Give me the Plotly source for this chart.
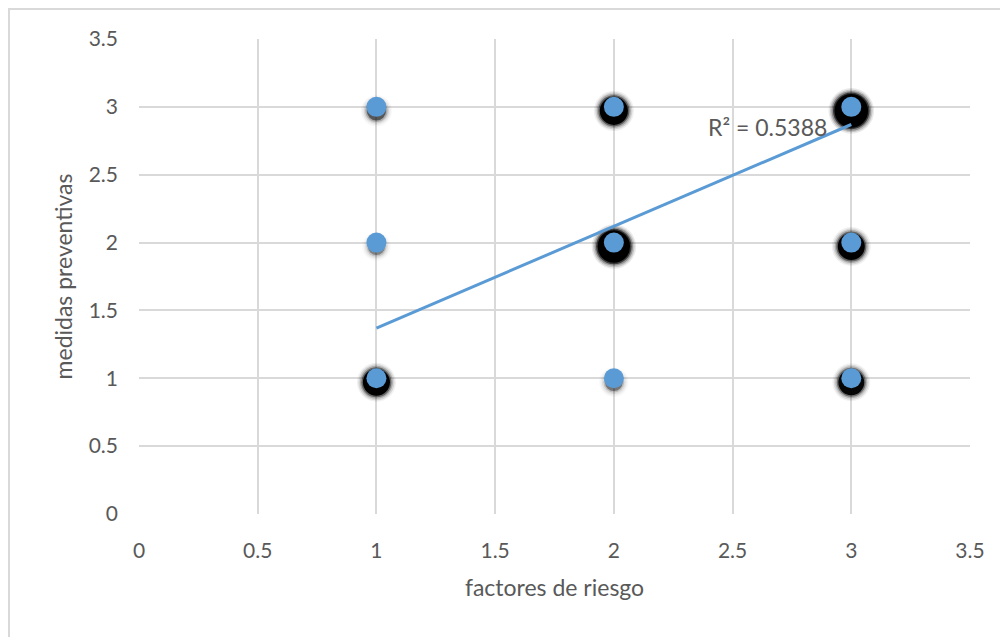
import plotly.graph_objects as go

# ---- data ----
x_vals = [1, 1, 1, 2, 2, 2, 3, 3, 3]
y_vals = [3, 2, 1, 3, 2, 1, 3, 2, 1]
# relative weight of overlapping points (drawn as shadow strength)
overlap = [0.6, 0.2, 2, 2.2, 3, 0.3, 3.2, 2, 1.8]
trend_x = [1, 3]
trend_y = [1.37, 2.87]
r2_text = "R² = 0.5388"
r2_pos = (2.645, 2.85)
x_ticks = [0, 0.5, 1, 1.5, 2, 2.5, 3, 3.5]
y_ticks = [0, 0.5, 1, 1.5, 2, 2.5, 3, 3.5]
x_title = "factores de riesgo"
y_title = "medidas preventivas"

W, H = 1008, 637
OFF = 8  # page body margin
ML, MT = 139 - OFF, 39 - OFF
MR = W - (970 - OFF)
MB = H - (514 - OFF)
PW, PH = W - ML - MR, H - MT - MB
px_per_y = PH / 3.5

BLUE = "#5b9bd5"
GRID = "#d9d9d9"
TXT = "#595959"
FONT = "Lato, 'Open Sans', sans-serif"

fig = go.Figure()

# shadows (layered soft black glows, slightly offset downward)
dy = 4 / px_per_y
layers = [(12, 0.05), (9, 0.09), (6, 0.16), (3, 0.35), (0, 0.85)]
for extra, op in layers:
    sizes = []
    ops = []
    for o in overlap:
        core = 16 + 5.5 * o
        sizes.append(core + extra)
        ops.append(min(1.0, op * (0.3 + 0.45 * o)))
    fig.add_trace(go.Scatter(
        x=x_vals, y=[v - dy for v in y_vals], mode="markers",
        marker=dict(size=sizes, color="black", opacity=ops, line=dict(width=0)),
        hoverinfo="skip", showlegend=False))

# trendline
fig.add_trace(go.Scatter(x=trend_x, y=trend_y, mode="lines",
                         line=dict(color=BLUE, width=3), showlegend=False))

# points
fig.add_trace(go.Scatter(x=x_vals, y=y_vals, mode="markers",
                         marker=dict(size=20, color=BLUE, line=dict(width=0)),
                         showlegend=False))

axis_common = dict(
    showgrid=True, gridcolor=GRID, gridwidth=2,
    zeroline=False, showline=False, ticks="",
    tickfont=dict(family=FONT, size=21, color=TXT),
    fixedrange=True,
)

fig.update_layout(
    width=W, height=H,
    margin=dict(l=ML, r=MR, t=MT, b=MB),
    paper_bgcolor="white", plot_bgcolor="white",
    xaxis=dict(range=[0, 3.5], tickvals=x_ticks, ticktext=[f"{v:g}" for v in x_ticks],
               title=dict(text=x_title, font=dict(family=FONT, size=23, color=TXT), standoff=18),
               ticklabelstandoff=22, **axis_common),
    yaxis=dict(range=[0, 3.5], tickvals=y_ticks, ticktext=[f"{v:g}" for v in y_ticks],
               title=dict(text=y_title, font=dict(family=FONT, size=23, color=TXT), standoff=9),
               ticklabelstandoff=20, **axis_common),
    showlegend=False,
)

# R² label
fig.add_annotation(x=r2_pos[0], y=r2_pos[1], xref="x", yref="y", text=r2_text, showarrow=False,
                   xanchor="center", yanchor="middle",
                   font=dict(family=FONT, size=23, color=TXT))

# outer chart border
fig.add_shape(type="rect", xref="paper", yref="paper",
              x0=(9 - OFF - ML) / PW, x1=(W + 5 - ML) / PW,
              y0=(MT + PH - (H + 5)) / PH, y1=(MT + PH - 1) / PH,
              line=dict(color=GRID, width=2), fillcolor="rgba(0,0,0,0)", layer="below")

fig.write_html("out.html")
